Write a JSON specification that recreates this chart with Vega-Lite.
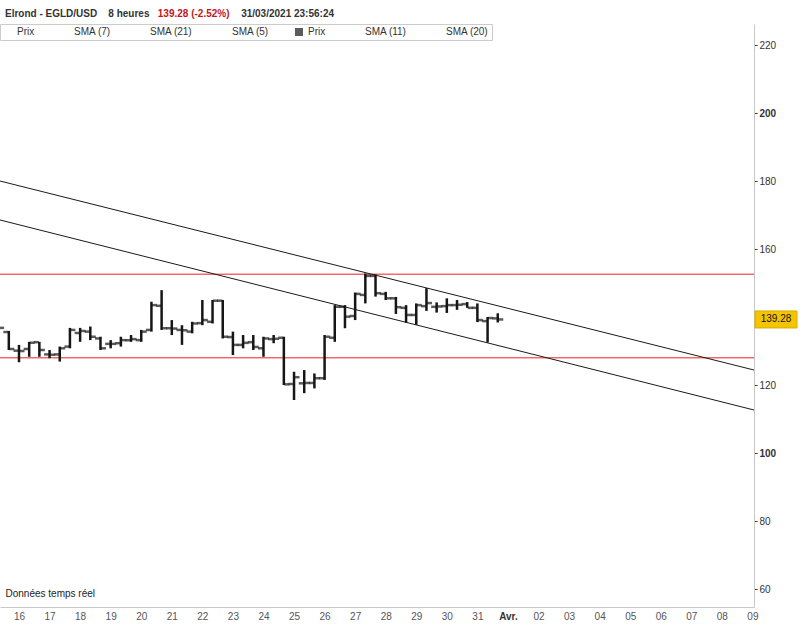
{
  "$schema": "https://vega.github.io/schema/vega-lite/v6.json",
  "width": 754,
  "height": 583,
  "autosize": {"type": "none"},
  "padding": {"left": 0, "top": 24, "right": 52, "bottom": 19},
  "background": "white",
  "config": {
    "view": {"stroke": null},
    "font": "Liberation Sans",
    "legend": {
      "orient": "top-left", "offset": 0, "direction": "horizontal", "title": null,
      "symbolType": "square", "symbolSize": 64, "symbolStrokeWidth": 0,
      "labelFontSize": 10, "labelColor": "#333", "labelFont": "Liberation Sans",
      "columnPadding": 25, "padding": 3, "fillColor": "white", "strokeColor": "#cccccc",
      "labelExpr": "trim(datum.label)"
    }
  },
  "title": {
    "text": "Elrond - EGLD/USD\u00a0\u00a0\u00a0\u00a08 heures\u00a0\u00a0\u00a0\u00a0\u00a0\u00a0\u00a0\u00a0\u00a0\u00a0\u00a0\u00a0\u00a0\u00a0\u00a0\u00a0\u00a0\u00a0\u00a0\u00a0\u00a0\u00a0\u00a0\u00a0\u00a0\u00a0\u00a0\u00a0\u00a0\u00a0\u00a0\u00a0\u00a031/03/2021 23:56:24",
    "subtitle": "\u200b\u00a0\u00a0\u00a0\u00a0\u00a0\u00a0\u00a0\u00a0\u00a0\u00a0\u00a0\u00a0\u00a0\u00a0\u00a0\u00a0\u00a0\u00a0\u00a0\u00a0\u00a0\u00a0\u00a0\u00a0\u00a0\u00a0\u00a0\u00a0\u00a0\u00a0\u00a0\u00a0\u00a0\u00a0\u00a0\u00a0\u00a0\u00a0\u00a0\u00a0\u00a0\u00a0\u00a0\u00a0\u00a0\u00a0\u00a0\u00a0\u00a0\u00a0\u00a0\u00a0\u00a0\u00a0\u00a0139.28 (-2.52%)",
    "anchor": "start", "orient": "top", "frame": "group", "offset": 5, "dx": 5,
    "font": "Liberation Sans", "fontSize": 10, "fontWeight": "bold", "color": "#333",
    "subtitleFont": "Liberation Sans", "subtitleFontSize": 10, "subtitleFontWeight": "bold",
    "subtitleColor": "#c4161c", "subtitlePadding": -10
  },
  "datasets": {
    "ohlc": [
      {"t": "2021-03-15T08:00", "o": 135.6, "h": 137.4, "l": 135.3, "c": 136.8},
      {"t": "2021-03-15T16:00", "o": 135.6, "h": 135.9, "l": 130.3, "c": 130.6},
      {"t": "2021-03-16T00:00", "o": 130.1, "h": 131.8, "l": 126.7, "c": 130.0},
      {"t": "2021-03-16T08:00", "o": 130.6, "h": 132.7, "l": 128.3, "c": 132.4},
      {"t": "2021-03-16T16:00", "o": 132.6, "h": 132.7, "l": 128.3, "c": 130.3},
      {"t": "2021-03-17T00:00", "o": 129.0, "h": 130.3, "l": 127.9, "c": 128.9},
      {"t": "2021-03-17T08:00", "o": 129.0, "h": 131.3, "l": 126.9, "c": 130.8},
      {"t": "2021-03-17T16:00", "o": 131.3, "h": 136.8, "l": 130.8, "c": 136.2},
      {"t": "2021-03-18T00:00", "o": 135.3, "h": 136.8, "l": 132.7, "c": 135.9},
      {"t": "2021-03-18T08:00", "o": 135.7, "h": 137.2, "l": 133.2, "c": 134.2},
      {"t": "2021-03-18T16:00", "o": 133.7, "h": 134.2, "l": 130.3, "c": 130.8},
      {"t": "2021-03-19T00:00", "o": 132.1, "h": 133.2, "l": 130.8, "c": 132.1},
      {"t": "2021-03-19T08:00", "o": 132.3, "h": 134.2, "l": 131.3, "c": 133.2},
      {"t": "2021-03-19T16:00", "o": 133.2, "h": 134.7, "l": 132.7, "c": 133.5},
      {"t": "2021-03-20T00:00", "o": 133.2, "h": 136.2, "l": 132.7, "c": 135.7},
      {"t": "2021-03-20T08:00", "o": 136.2, "h": 144.5, "l": 135.7, "c": 143.5},
      {"t": "2021-03-20T16:00", "o": 143.3, "h": 147.9, "l": 136.2, "c": 136.7},
      {"t": "2021-03-21T00:00", "o": 136.7, "h": 139.1, "l": 134.7, "c": 136.6},
      {"t": "2021-03-21T08:00", "o": 136.2, "h": 137.6, "l": 131.8, "c": 136.1},
      {"t": "2021-03-21T16:00", "o": 135.7, "h": 138.6, "l": 135.2, "c": 138.1},
      {"t": "2021-03-22T00:00", "o": 138.2, "h": 145.0, "l": 137.6, "c": 139.1},
      {"t": "2021-03-22T08:00", "o": 138.6, "h": 145.0, "l": 138.1, "c": 144.8},
      {"t": "2021-03-22T16:00", "o": 144.8, "h": 145.0, "l": 133.7, "c": 134.2},
      {"t": "2021-03-23T00:00", "o": 134.1, "h": 135.7, "l": 128.8, "c": 131.8},
      {"t": "2021-03-23T08:00", "o": 131.8, "h": 134.7, "l": 130.8, "c": 132.4},
      {"t": "2021-03-23T16:00", "o": 132.6, "h": 134.7, "l": 130.3, "c": 131.2},
      {"t": "2021-03-24T00:00", "o": 130.8, "h": 134.2, "l": 128.3, "c": 133.7},
      {"t": "2021-03-24T08:00", "o": 133.5, "h": 134.7, "l": 132.3, "c": 133.6},
      {"t": "2021-03-24T16:00", "o": 133.9, "h": 134.2, "l": 120.0, "c": 120.2},
      {"t": "2021-03-25T00:00", "o": 120.3, "h": 123.9, "l": 115.6, "c": 122.3},
      {"t": "2021-03-25T08:00", "o": 120.5, "h": 124.4, "l": 117.6, "c": 120.6},
      {"t": "2021-03-25T16:00", "o": 120.6, "h": 123.4, "l": 119.0, "c": 122.0},
      {"t": "2021-03-26T00:00", "o": 122.0, "h": 134.7, "l": 121.5, "c": 134.2},
      {"t": "2021-03-26T08:00", "o": 133.9, "h": 143.5, "l": 132.7, "c": 143.0},
      {"t": "2021-03-26T16:00", "o": 143.0, "h": 143.5, "l": 136.7, "c": 140.1},
      {"t": "2021-03-27T00:00", "o": 140.3, "h": 147.2, "l": 139.1, "c": 146.8},
      {"t": "2021-03-27T08:00", "o": 146.5, "h": 152.8, "l": 144.0, "c": 152.1},
      {"t": "2021-03-27T16:00", "o": 152.1, "h": 152.5, "l": 146.0, "c": 147.0},
      {"t": "2021-03-28T00:00", "o": 146.8, "h": 147.4, "l": 145.0, "c": 145.5},
      {"t": "2021-03-28T08:00", "o": 145.5, "h": 145.9, "l": 140.9, "c": 142.9},
      {"t": "2021-03-28T16:00", "o": 142.7, "h": 143.5, "l": 138.3, "c": 140.6},
      {"t": "2021-03-29T00:00", "o": 140.6, "h": 144.0, "l": 137.7, "c": 143.5},
      {"t": "2021-03-29T08:00", "o": 143.2, "h": 148.5, "l": 141.8, "c": 144.1},
      {"t": "2021-03-29T16:00", "o": 143.0, "h": 144.3, "l": 141.3, "c": 143.1},
      {"t": "2021-03-30T00:00", "o": 143.2, "h": 145.5, "l": 141.2, "c": 143.5},
      {"t": "2021-03-30T08:00", "o": 143.5, "h": 145.0, "l": 142.1, "c": 143.6},
      {"t": "2021-03-30T16:00", "o": 143.8, "h": 144.4, "l": 142.7, "c": 142.7},
      {"t": "2021-03-31T00:00", "o": 142.7, "h": 144.0, "l": 138.5, "c": 139.1},
      {"t": "2021-03-31T08:00", "o": 138.8, "h": 140.0, "l": 132.5, "c": 139.7},
      {"t": "2021-03-31T16:00", "o": 139.6, "h": 141.1, "l": 138.4, "c": 139.28}
    ],
    "trend": [
      {"line": "haut", "t": "2021-03-15T00:00", "v": 180.85},
      {"line": "haut", "t": "2021-04-10T00:00", "v": 122.27},
      {"line": "bas", "t": "2021-03-15T00:00", "v": 169.39},
      {"line": "bas", "t": "2021-04-10T00:00", "v": 110.5}
    ],
    "levels": [{"level": 152.6}, {"level": 128.0}],
    "last": [{"last": 139.28}]
  },
  "layer": [
    {
      "data": {"name": "levels"},
      "mark": {"type": "rule", "color": "#e8241c", "strokeWidth": 1},
      "encoding": {
        "y": {"field": "level", "type": "quantitative",
          "scale": {"domain": [54.71, 226.18], "nice": false, "zero": false},
          "axis": {"orient": "right", "values": [60, 80, 100, 120, 140, 160, 180, 200, 220], "title": null, "grid": false,
            "domainColor": "#c8c8c8", "tickColor": "#333", "tickSize": 3, "labelPadding": 2,
            "labelFontSize": 10, "labelColor": "#333", "labelFont": "Liberation Sans",
            "labelExpr": "datum.value == 140 ? '' : datum.label",
            "labelFontWeight": {"condition": {"test": "datum.value == 100 || datum.value == 200", "value": "bold"}, "value": "normal"}}}
      }
    },
    {
      "data": {"name": "trend"},
      "mark": {"type": "line", "color": "#1a1a1a", "strokeWidth": 1, "clip": true},
      "encoding": {
        "x": {"field": "t", "type": "temporal",
          "scale": {"domain": [{"year": 2021, "month": 3, "date": 15, "hours": 9, "minutes": 5}, {"year": 2021, "month": 4, "date": 9, "hours": 1, "minutes": 14}]},
          "axis": {"orient": "bottom", "title": "Données temps réel", "titleX": 5, "titleY": -14, "titleAlign": "left", "titleBaseline": "middle",
            "titleFontSize": 10, "titleFontWeight": "normal", "titleColor": "#222", "titleFont": "Liberation Sans",
            "tickCount": {"interval": "day", "step": 1}, "ticks": false, "grid": false, "domainColor": "#c8c8c8",
            "labelPadding": 4, "labelFontSize": 10, "labelFont": "Liberation Sans", "labelOverlap": false, "labelFlush": false,
            "labelExpr": "date(datum.value) == 1 && month(datum.value) == 3 ? 'Avr.' : timeFormat(datum.value, '%d')",
            "labelColor": {"condition": {"test": "date(datum.value) == 1", "value": "#333"}, "value": "#555"},
            "labelFontWeight": {"condition": {"test": "date(datum.value) == 1", "value": "bold"}, "value": "normal"}}},
        "y": {"field": "v", "type": "quantitative", "scale": {"domain": [54.71, 226.18], "nice": false, "zero": false}},
        "detail": {"field": "line"}
      }
    },
    {
      "data": {"name": "ohlc"},
      "mark": {"type": "rule", "color": "#161616", "strokeWidth": 2.5, "clip": true},
      "encoding": {
        "x": {"field": "t", "type": "temporal", "scale": {"domain": [{"year": 2021, "month": 3, "date": 15, "hours": 9, "minutes": 5}, {"year": 2021, "month": 4, "date": 9, "hours": 1, "minutes": 14}]}},
        "y": {"field": "h", "type": "quantitative", "scale": {"domain": [54.71, 226.18], "nice": false, "zero": false}},
        "y2": {"field": "l"}
      }
    },
    {
      "data": {"name": "ohlc"},
      "mark": {"type": "tick", "orient": "horizontal", "size": 5, "thickness": 2.5, "xOffset": -3, "clip": true},
      "encoding": {
        "x": {"field": "t", "type": "temporal", "scale": {"domain": [{"year": 2021, "month": 3, "date": 15, "hours": 9, "minutes": 5}, {"year": 2021, "month": 4, "date": 9, "hours": 1, "minutes": 14}]}},
        "y": {"field": "o", "type": "quantitative", "scale": {"domain": [54.71, 226.18], "nice": false, "zero": false}},
        "color": {"datum": "Prix ", "type": "nominal",
          "scale": {"domain": ["Prix", "SMA (7)", "SMA (21)", "SMA (5)", "Prix ", "SMA (11)", "SMA (20)"],
            "range": ["transparent", "transparent", "transparent", "transparent", "#161616", "transparent", "transparent"]}}
      }
    },
    {
      "data": {"name": "ohlc"},
      "mark": {"type": "tick", "orient": "horizontal", "size": 5, "thickness": 2.5, "xOffset": 3, "clip": true, "color": "#161616"},
      "encoding": {
        "x": {"field": "t", "type": "temporal", "scale": {"domain": [{"year": 2021, "month": 3, "date": 15, "hours": 9, "minutes": 5}, {"year": 2021, "month": 4, "date": 9, "hours": 1, "minutes": 14}]}},
        "y": {"field": "c", "type": "quantitative", "scale": {"domain": [54.71, 226.18], "nice": false, "zero": false}}
      }
    },
    {
      "data": {"name": "last"},
      "mark": {"type": "tick", "orient": "horizontal", "size": 42, "thickness": 17, "color": "#f5c400", "stroke": "#d9ab00", "strokeWidth": 1, "opacity": 1},
      "encoding": {
        "x": {"datum": {"year": 2021, "month": 4, "date": 9, "hours": 18, "minutes": 30}, "type": "temporal"},
        "y": {"field": "last", "type": "quantitative"}
      }
    },
    {
      "data": {"name": "last"},
      "mark": {"type": "text", "fontSize": 10, "font": "Liberation Sans", "color": "#111", "align": "center", "baseline": "middle"},
      "encoding": {
        "x": {"datum": {"year": 2021, "month": 4, "date": 9, "hours": 18, "minutes": 30}, "type": "temporal"},
        "y": {"field": "last", "type": "quantitative"},
        "text": {"field": "last", "type": "quantitative", "format": ".2f"}
      }
    }
  ]
}
